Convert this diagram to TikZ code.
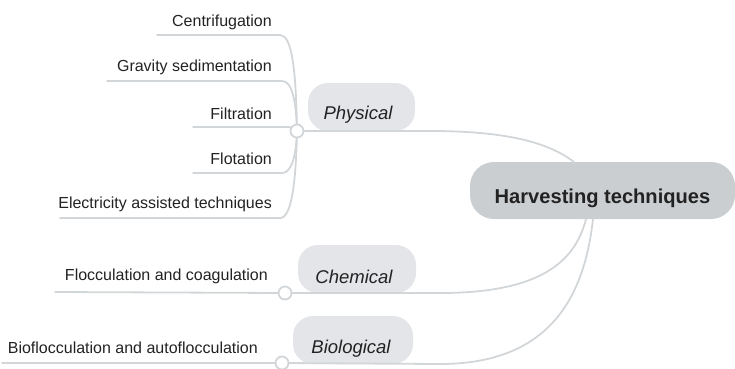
\documentclass[tikz,border=0pt]{standalone}
\usepackage{fontspec}
\setmainfont{Liberation Sans}
\definecolor{linegray}{HTML}{D3D6D9}
\definecolor{mainfill}{HTML}{CBCED1}
\definecolor{catfill}{HTML}{E3E5E8}
\definecolor{ink}{HTML}{222222}
\tikzset{
  conn/.style={draw=linegray, line width=1.8pt, line cap=round},
  leaf/.style={anchor=base east, inner sep=0pt, text=ink, font=\fontsize{16}{19}\selectfont},
  catbox/.style={fill=catfill, rounded corners=20pt, inner sep=0pt},
  cattext/.style={anchor=base, inner sep=0pt, text=ink, font=\fontsize{18.5}{22}\selectfont\itshape},
  junction/.style={circle, draw=linegray, line width=1.8pt, fill=white, minimum size=13pt, inner sep=0pt},
}
\begin{document}
\begin{tikzpicture}[x=1pt,y=-1pt]
\useasboundingbox (0,0) rectangle (735,368);

% central topic
\node[fill=mainfill, rounded corners=24pt, minimum width=265pt, minimum height=57pt, inner sep=0pt] (mainbox) at (602.5,190.5) {};
\node[anchor=base, inner sep=0pt, text=ink, font=\fontsize{20.1}{24}\selectfont\bfseries] (main) at (602.5,203) {Harvesting techniques};

% category boxes
\node[catbox, minimum width=107pt, minimum height=48pt] (physbox) at (361.5,107) {};
\node[cattext] (phys) at (358,119) {Physical};
\node[catbox, minimum width=118pt, minimum height=48pt] (chembox) at (357,269) {};
\node[cattext] (chem) at (354,283) {Chemical};
\node[catbox, minimum width=120pt, minimum height=48pt] (biobox) at (353,340) {};
\node[cattext] (bio) at (351,353) {Biological};

% connector end points
\coordinate (pEnd) at (574,162);
\coordinate (cEnd) at (586,219);
\coordinate (bEnd) at (593,219);

\coordinate (jP) at (297,131);
\coordinate (jC) at (285,293);
\coordinate (jB) at (282,363);

% category to central topic
\draw[conn] (jP) -- (430,131) .. controls (505,131) and (548,142) .. (pEnd);
\draw[conn] (jC) -- (440,293) .. controls (540,293) and (575,262) .. (cEnd);
\draw[conn] (jB) -- (440,364) .. controls (555,364) and (585,290) .. (bEnd);

% physical leaves
\node[leaf] (l1) at (272,26) {Centrifugation};
\node[leaf] (l2) at (272,71) {Gravity sedimentation};
\node[leaf] (l3) at (272,119) {Filtration};
\node[leaf] (l4) at (272,164) {Flotation};
\node[leaf] (l5) at (272,208) {Electricity assisted techniques};

\coordinate (a1) at (157,35);  \coordinate (b1) at (280,35);
\coordinate (a2) at (107,81);  \coordinate (b2) at (282,81);
\coordinate (a3) at (193,127);
\coordinate (a4) at (193,173); \coordinate (b4) at (282,173);
\coordinate (a5) at (60,218);  \coordinate (b5) at (280,218);

\draw[conn] (a1) -- (b1) .. controls (292,35) and (296,70) .. (jP);
\draw[conn] (a2) -- (b2) .. controls (292,81) and (296,100) .. (jP);
\draw[conn] (a3) -- (288,127) .. controls (293,127) and (295,129) .. (jP);
\draw[conn] (a4) -- (b4) .. controls (292,173) and (296,155) .. (jP);
\draw[conn] (a5) -- (b5) .. controls (292,218) and (296,180) .. (jP);

% chemical and biological leaves
\node[leaf] (l6) at (268,280) {Flocculation and coagulation};
\node[leaf] (l7) at (258,353) {Bioflocculation and autoflocculation};
\coordinate (a6) at (55,292);
\coordinate (a7) at (2,363);
\draw[conn] (a6) -- (jC);
\draw[conn] (a7) -- (jB);

% junction circles
\node[junction] (jPc) at (jP) {};
\node[junction] (jCc) at (jC) {};
\node[junction] (jBc) at (jB) {};
\end{tikzpicture}
\end{document}
